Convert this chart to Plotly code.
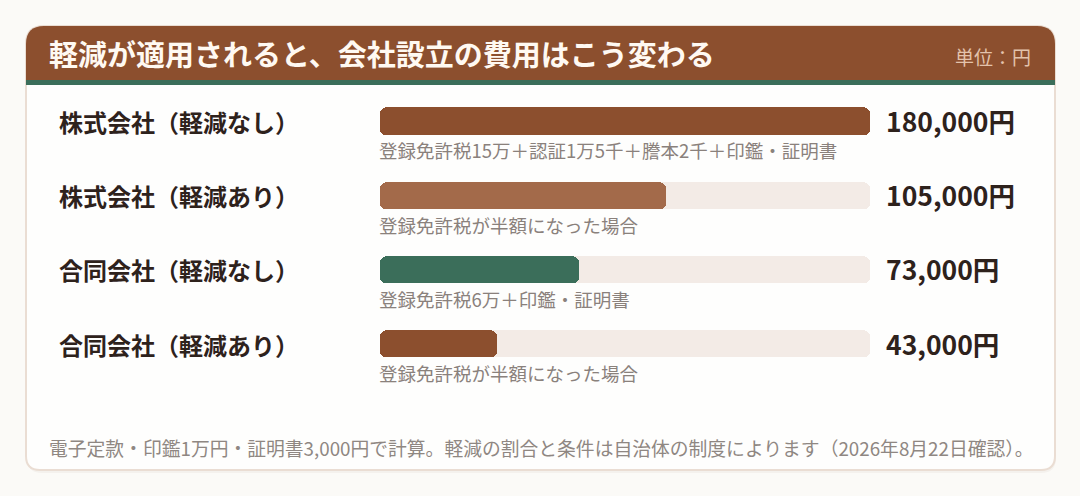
import plotly.graph_objects as go

W, H = 1080, 496

# data
categories = ["株式会社（軽減なし）", "株式会社（軽減あり）", "合同会社（軽減なし）", "合同会社（軽減あり）"]
costs = [180000, 105000, 73000, 43000]
value_labels = ["180,000円", "105,000円", "73,000円", "43,000円"]
notes = [
    "登録免許税15万＋認証1万5千＋謄本2千＋印鑑・証明書",
    "登録免許税が半額になった場合",
    "登録免許税6万＋印鑑・証明書",
    "登録免許税が半額になった場合",
]
scale_max = 180000

title = "軽減が適用されると、会社設立の費用はこう変わる"
unit = "単位：円"
footnote = "電子定款・印鑑1万円・証明書3,000円で計算。軽減の割合と条件は自治体の制度によります（2026年8月22日確認）。"

BROWN = "#8C4F2E"
BROWN_LIGHT = "#A36A4A"
GREEN = "#3B6E5A"
TRACK = "#F3EBE6"
bar_colors = [BROWN, BROWN_LIGHT, GREEN, BROWN]

FONT = "Noto Sans CJK JP"


def px(x):
    return x / W


def py(y):
    return 1 - y / H


def rounded_path(x0, y0, x1, y1, rt, rb):
    # pixel box -> paper path, rt = top corner radius, rb = bottom corner radius
    pts = [
        f"M{px(x0 + rt)},{py(y0)}",
        f"L{px(x1 - rt)},{py(y0)}",
        f"Q{px(x1)},{py(y0)} {px(x1)},{py(y0 + rt)}",
        f"L{px(x1)},{py(y1 - rb)}",
        f"Q{px(x1)},{py(y1)} {px(x1 - rb)},{py(y1)}",
        f"L{px(x0 + rb)},{py(y1)}",
        f"Q{px(x0)},{py(y1)} {px(x0)},{py(y1 - rb)}",
        f"L{px(x0)},{py(y0 + rt)}",
        f"Q{px(x0)},{py(y0)} {px(x0 + rt)},{py(y0)}",
        "Z",
    ]
    return " ".join(pts)


def pill(fig, vals, color):
    # bar rounded at both ends: two halves growing out from the middle
    right_base = [v * 0.45 for v in vals]
    left_base = [v * 0.55 for v in vals]
    fig.add_trace(go.Bar(
        y=categories, x=[v - b for v, b in zip(vals, right_base)], base=right_base,
        orientation="h", marker=dict(color=color, cornerradius=6, line=dict(width=0)),
        width=0.37, hoverinfo="skip", showlegend=False,
    ))
    fig.add_trace(go.Bar(
        y=categories, x=[-b for b in left_base], base=left_base,
        orientation="h", marker=dict(color=color, cornerradius=6, line=dict(width=0)),
        width=0.37, hoverinfo="skip", showlegend=False,
    ))


fig = go.Figure()
pill(fig, [scale_max] * len(categories), TRACK)
pill(fig, costs, bar_colors)

shapes = [
    # soft shadow
    dict(type="path", path=rounded_path(27, 29, 1056, 473, 18, 15), xref="paper", yref="paper",
         fillcolor="rgba(120,80,50,0.05)", line=dict(width=0), layer="below"),
    # card
    dict(type="path", path=rounded_path(26, 26, 1055, 470, 18, 14), xref="paper", yref="paper",
         fillcolor="#FEFEFD", line=dict(color="#EADDD3", width=2), layer="below"),
    # header
    dict(type="path", path=rounded_path(26, 26, 1055, 81, 18, 0), xref="paper", yref="paper",
         fillcolor=BROWN, line=dict(width=0), layer="below"),
    dict(type="rect", x0=px(26), x1=px(1055), y0=py(80), y1=py(85), xref="paper", yref="paper",
         fillcolor=GREEN, line=dict(width=0), layer="below"),
]

annotations = [
    dict(text=f"<b>{title}</b>", x=px(47), y=py(53), xref="paper", yref="paper",
         xanchor="left", yanchor="middle", showarrow=False,
         font=dict(family=FONT, size=29, color="#FFF9F2")),
    dict(text=unit, x=px(1033), y=py(56), xref="paper", yref="paper",
         xanchor="right", yanchor="middle", showarrow=False,
         font=dict(family=FONT, size=19, color="#E3C3AC")),
    dict(text=footnote, x=px(47), y=py(447), xref="paper", yref="paper",
         xanchor="left", yanchor="middle", showarrow=False,
         font=dict(family=FONT, size=18.8, color="#8F8782")),
]

for i, cat in enumerate(categories):
    annotations.append(dict(
        text=f"<b>{cat}</b>", x=px(57), y=i, xref="paper", yref="y",
        xanchor="left", yanchor="middle", showarrow=False, yshift=0,
        font=dict(family=FONT, size=24, color="#2E221C"),
    ))
    annotations.append(dict(
        text=notes[i], x=px(377), y=i, xref="paper", yref="y",
        xanchor="left", yanchor="middle", showarrow=False, yshift=-29,
        font=dict(family=FONT, size=18.5, color="#8A817C"),
    ))
    annotations.append(dict(
        text=f"<b>{value_labels[i]}</b>", x=px(884), y=i, xref="paper", yref="y",
        xanchor="left", yanchor="middle", showarrow=False, yshift=1,
        font=dict(family=FONT, size=26.5, color="#2E221C"),
    ))

fig.update_layout(
    width=W, height=H,
    margin=dict(l=0, r=0, t=0, b=0),
    paper_bgcolor="#FBFAF7",
    plot_bgcolor="rgba(0,0,0,0)",
    barmode="overlay",
    bargap=0,
    shapes=shapes,
    annotations=annotations,
    xaxis=dict(domain=[px(380), px(870)], range=[0, scale_max], visible=False, fixedrange=True),
    yaxis=dict(domain=[py(381.1), py(84.4)], range=[3.5, -0.5], type="category",
               visible=False, fixedrange=True),
    showlegend=False,
)

fig.write_html(
    "out.html",
    config={"displayModeBar": False},
    post_script="document.body.style.margin='0';document.body.style.overflow='hidden';",
)
